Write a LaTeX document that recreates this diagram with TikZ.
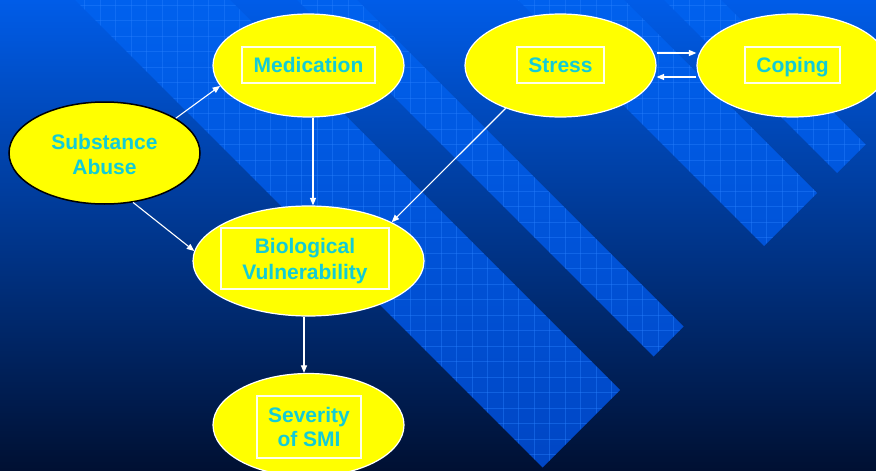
\documentclass[tikz,border=0pt]{standalone}
\usepackage{fontspec}
\setmainfont{Liberation Sans}
\usetikzlibrary{shapes.geometric,arrows.meta}
\definecolor{bgtop}{RGB}{0,92,232}
\definecolor{bgmid}{RGB}{0,66,168}
\definecolor{bgbot}{RGB}{0,16,50}
\definecolor{sttop}{RGB}{0,97,238}
\definecolor{stbot}{RGB}{0,70,196}
\definecolor{gridc}{RGB}{40,128,255}
\definecolor{txtc}{RGB}{18,204,214}
\definecolor{yel}{RGB}{255,255,0}
\definecolor{rectc}{RGB}{255,255,235}
\begin{document}
\begin{tikzpicture}[x=1pt,y=-1pt,
  ell/.style={ellipse, fill=yel, draw=white, line width=1.2pt, inner sep=0pt},
  lab/.style={rectangle, draw=rectc, line width=1.1pt, text=txtc,
    font=\fontsize{21}{26}\selectfont\bfseries, align=center, inner sep=0pt,
    text height=15.4pt, text depth=0pt},
  txt/.style={text=txtc, font=\fontsize{21}{25}\selectfont\bfseries, align=center, inner sep=0pt,
    text height=40.4pt, text depth=0pt},
  arr/.style={draw=white, line width=1.1pt, -{Triangle[length=7.5pt,width=6pt]}},
  gridline/.style={draw=gridc, line width=0.7pt, opacity=0.42}
]
\useasboundingbox (0,0) rectangle (876,471);
\clip (0,0) rectangle (876,471);
% background
\shade[top color=bgtop, middle color=bgmid, bottom color=bgbot] (0,0) rectangle (876,471);
% diagonal grid stripes
\begin{scope}
  \clip (55,-20) -- (542.5,467.5) -- (620,390) -- (210,-20) -- cycle
        (277,-20) -- (653.5,356.5) -- (683.5,326.5) -- (337,-20) -- cycle
        (498,-20) -- (764,246) -- (817,193) -- (604,-20) -- cycle
        (644,-20) -- (837,173) -- (865.5,144.5) -- (701,-20) -- cycle;
  \shade[top color=sttop, bottom color=stbot] (0,0) rectangle (876,471);
  \foreach \gx in {7.3,22.8,...,880} \draw[gridline] (\gx,-20) -- (\gx,480);
  \foreach \gy in {5,20.5,...,480} \draw[gridline] (-20,\gy) -- (900,\gy);
\end{scope}
% ellipses
\node[ell, minimum width=191pt, minimum height=103pt] (med) at (308.5,65.5) {};
\node[ell, minimum width=191pt, minimum height=103pt] (str) at (560.5,65.5) {};
\node[ell, minimum width=191pt, minimum height=103pt] (cop) at (792.5,65.5) {};
\node[ell, draw=black, line width=1.5pt, minimum width=191pt, minimum height=102pt] (sub) at (104.5,153) {};
\node[ell, minimum width=231pt, minimum height=110pt] (bio) at (308.5,261) {};
\node[ell, minimum width=191pt, minimum height=103pt] (sev) at (308.5,425) {};
% labels
\node[lab, minimum width=133pt, minimum height=36pt] (medlab) at (308.5,65) {Medication};
\node[lab, minimum width=87pt, minimum height=36pt] (strlab) at (560.5,65) {Stress};
\node[lab, minimum width=95pt, minimum height=36pt] (coplab) at (792.5,65) {Coping};
\node[txt] (sublab) at (104.5,154) {Substance\\Abuse};
\node[lab, text height=41.4pt, minimum width=168pt, minimum height=61pt] (biolab) at (305,258.5) {Biological\\Vulnerability};
\node[lab, font=\fontsize{21}{24}\selectfont\bfseries, text height=39.4pt, minimum width=104pt, minimum height=62pt] (sevlab) at (309,427) {Severity\\of SMI};
% connectors
\draw[arr] (sub.26) -- (med.193.5);
\draw[arr] (sub.-60) -- (bio.175);
\draw[arr] ([xshift=4.5pt]med.south) -- ([xshift=4.5pt]bio.north);
\draw[arr] (str.218.7) -- (bio.25.9);
\draw[arr] ([yshift=12.5pt]str.east) -- ([yshift=12.5pt]cop.west);
\draw[arr] ([yshift=-11.5pt]cop.west) -- ([yshift=-11.5pt]str.east);
\draw[arr] ([xshift=-4.5pt]bio.south) -- ([xshift=-4.5pt]sev.north);
\end{tikzpicture}
\end{document}
